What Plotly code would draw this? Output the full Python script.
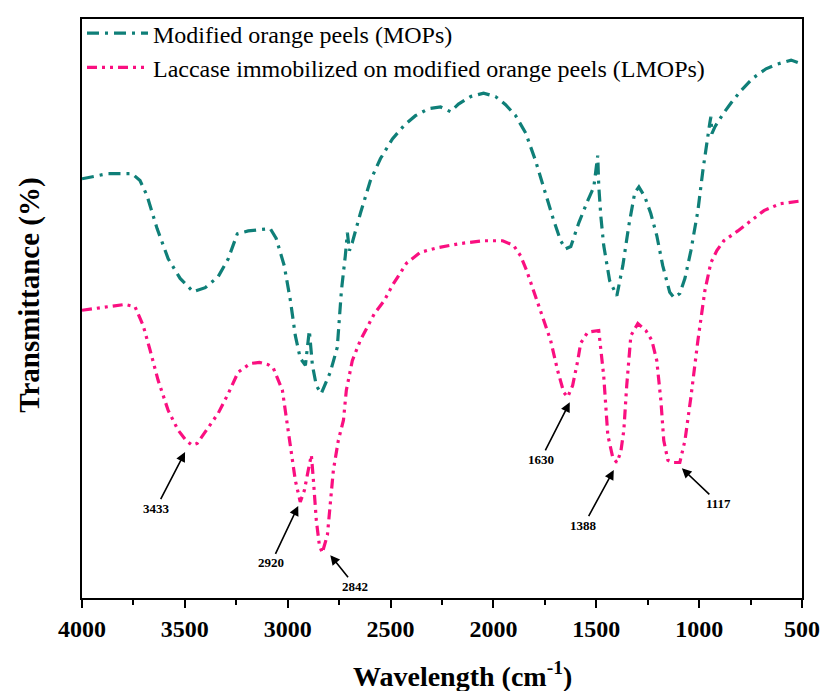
import plotly.graph_objects as go

# ---- data (wavenumber in cm^-1, transmittance in arbitrary % units) ----
mops_wn = [4000, 3873, 3757, 3718, 3684, 3635, 3581, 3523, 3460, 3401, 3338, 3289, 3245, 3192,
           3085, 3056, 3017, 2987, 2963, 2939, 2914, 2895, 2880, 2861, 2837, 2793, 2759, 2739,
           2720, 2710, 2700, 2686, 2647, 2598, 2549, 2491, 2432, 2379, 2316, 2257, 2209, 2170,
           2111, 2048, 1990, 1941, 1892, 1843, 1795, 1746, 1707, 1673, 1649, 1624, 1585, 1542,
           1512, 1493, 1488, 1478, 1464, 1435, 1400, 1371, 1342, 1313, 1293, 1264, 1235, 1206,
           1177, 1143, 1123, 1094, 1069, 1040, 1006, 982, 962, 948, 943, 938, 923, 884, 845,
           797, 738, 675, 622, 553, 500]
mops_t = [72.4, 73.3, 73.3, 72.1, 69.5, 63.8, 58.6, 55.2, 52.9, 53.6, 55.5, 58.6, 62.9, 63.4,
          63.8, 62.1, 57.4, 51.4, 45.3, 41.4, 40.2, 46.2, 40.2, 36.7, 35.3, 39.0, 43.3, 53.1,
          59.1, 63.1, 60.0, 61.4, 66.4, 72.1, 75.9, 79.3, 81.7, 83.3, 84.5, 84.8, 84.0, 85.3,
          86.6, 87.2, 86.6, 85.2, 83.3, 80.3, 75.5, 69.5, 65.2, 61.7, 60.3, 60.7, 64.8, 68.6,
          71.0, 76.4, 71.2, 66.0, 60.9, 54.8, 52.2, 57.4, 64.3, 70.0, 71.0, 69.3, 66.4, 62.6,
          57.4, 52.8, 51.9, 52.6, 55.2, 60.0, 66.9, 73.8, 79.3, 82.1, 83.1, 80.2, 81.4, 83.6, 85.5,
          87.6, 89.8, 91.4, 92.2, 92.9, 92.2]

lmops_wn = [4000, 3873, 3791, 3742, 3703, 3669, 3630, 3581, 3533, 3494, 3465, 3440, 3406, 3338,
            3289, 3241, 3182, 3138, 3095, 3070, 3026, 3002, 2983, 2963, 2939, 2919, 2900, 2885,
            2875, 2861, 2846, 2832, 2807, 2793, 2778, 2754, 2729, 2715, 2686, 2647, 2579, 2530,
            2491, 2423, 2355, 2272, 2165, 2053, 1955, 1902, 1868, 1839, 1804, 1770, 1722, 1688,
            1658, 1639, 1615, 1590, 1576, 1542, 1488, 1464, 1444, 1420, 1400, 1381, 1366, 1352,
            1332, 1298, 1259, 1230, 1206, 1186, 1172, 1152, 1128, 1094, 1069, 1040, 1006, 972,
            943, 914, 880, 812, 748, 685, 607, 553, 500]
lmops_t = [49.7, 50.3, 50.7, 50.3, 47.1, 42.8, 37.6, 32.4, 29.0, 27.2, 26.4, 26.7, 28.4, 31.9,
           35.3, 39.0, 40.5, 40.7, 40.3, 39.7, 35.9, 30.2, 25.5, 20.3, 16.6, 18.6, 22.1, 24.7,
           20.3, 13.4, 9.1, 7.8, 10.9, 16.9, 22.1, 27.2, 30.7, 35.9, 41.0, 44.5, 49.1, 51.4,
           54.0, 57.8, 59.7, 60.5, 61.2, 61.7, 61.7, 60.9, 59.1, 56.6, 53.1, 49.7, 44.5, 39.3,
           35.5, 34.7, 36.7, 41.0, 44.0, 45.9, 46.2, 38.4, 28.1, 24.3, 23.4, 25.2, 29.0, 36.7,
           45.3, 47.4, 46.2, 44.5, 41.0, 34.1, 27.2, 23.8, 23.4, 23.4, 27.2, 34.7, 44.5, 53.1,
           57.9, 60.0, 61.7, 63.4, 65.2, 66.9, 68.1, 68.4, 68.6]

peak_labels = ["3433", "2920", "2842", "1630", "1388", "1117"]
peak_wn = [3499, 2949, 2793, 1629, 1415, 1084]
peak_t = [25.2, 15.9, 7.4, 33.8, 22.1, 22.4]
label_dx = [-29, -27, 25, -29, -30, 37]
label_dy = [56, 57, 31, 57, 55, 35]

x_ticks = [4000, 3500, 3000, 2500, 2000, 1500, 1000, 500]
x_title = "<b>Wavelength (cm<sup>-1</sup>)</b>"
y_title = "<b>Transmittance (%)</b>"

TEAL = "#0f7f78"
PINK = "#fa0f80"
FONT = "'Liberation Serif', 'Times New Roman', Times, serif"

fig = go.Figure()
fig.add_trace(go.Scatter(
    x=mops_wn, y=mops_t, mode="lines", name="Modified orange peels (MOPs)",
    line=dict(color=TEAL, width=3.2, dash="12px,6px,3px,6px")))
fig.add_trace(go.Scatter(
    x=lmops_wn, y=lmops_t, mode="lines",
    name="Laccase immobilized on modified orange peels (LMOPs)",
    line=dict(color=PINK, width=3.2, dash="10px,5px,3px,5px,3px,5px")))

for lab, wx, wy, dx, dy in zip(peak_labels, peak_wn, peak_t, label_dx, label_dy):
    fig.add_annotation(
        x=wx, y=wy, text="<b>%s</b>" % lab, showarrow=True, ax=dx, ay=dy,
        arrowhead=2, arrowsize=1.2, arrowwidth=1.6, arrowcolor="black", standoff=0,
        font=dict(family=FONT, size=13, color="black"))

# axis titles as annotations (positioned like the reference)
fig.add_annotation(x=0.528, y=0, xref="paper", yref="paper", text=x_title,
                   showarrow=False, xanchor="center", yanchor="middle", yshift=-76,
                   font=dict(family=FONT, size=28, color="black"))
fig.add_annotation(x=0, y=0.522, xref="paper", yref="paper", text=y_title,
                   showarrow=False, xanchor="center", yanchor="middle", xshift=-52,
                   textangle=-90, font=dict(family=FONT, size=29, color="black"))

fig.update_layout(
    width=822, height=691,
    margin=dict(l=82, r=20, t=18, b=93),
    paper_bgcolor="white", plot_bgcolor="white",
    font=dict(family=FONT, color="black"),
    showlegend=True,
    legend=dict(x=0.0, y=1.012, xanchor="left", yanchor="top",
                bgcolor="rgba(0,0,0,0)", borderwidth=0,
                font=dict(family=FONT, size=24, color="black"),
                itemwidth=61, tracegroupgap=0),
)
fig.update_xaxes(
    range=[4000, 500], tickvals=x_ticks, ticktext=["<b>%d</b>" % v for v in x_ticks],
    ticks="outside", ticklen=8, tickwidth=2, tickcolor="black",
    minor=dict(ticks="outside", dtick=250, ticklen=5, tickwidth=1.5, tickcolor="black"),
    showline=True, linecolor="black", linewidth=2, mirror=True,
    showgrid=False, zeroline=False, automargin=False,
    ticklabelstandoff=0,
    tickfont=dict(family=FONT, size=24, color="black"),
)
fig.update_yaxes(
    range=[0, 100], showticklabels=False, ticks="",
    showline=True, linecolor="black", linewidth=2, mirror=True,
    showgrid=False, zeroline=False, automargin=False,
)

# remove the default 8px page margin so the figure fills the window exactly
fig.write_html("out.html",
               config={"displayModeBar": False},
               post_script="document.body.style.margin='0';document.body.style.overflow='hidden';")
